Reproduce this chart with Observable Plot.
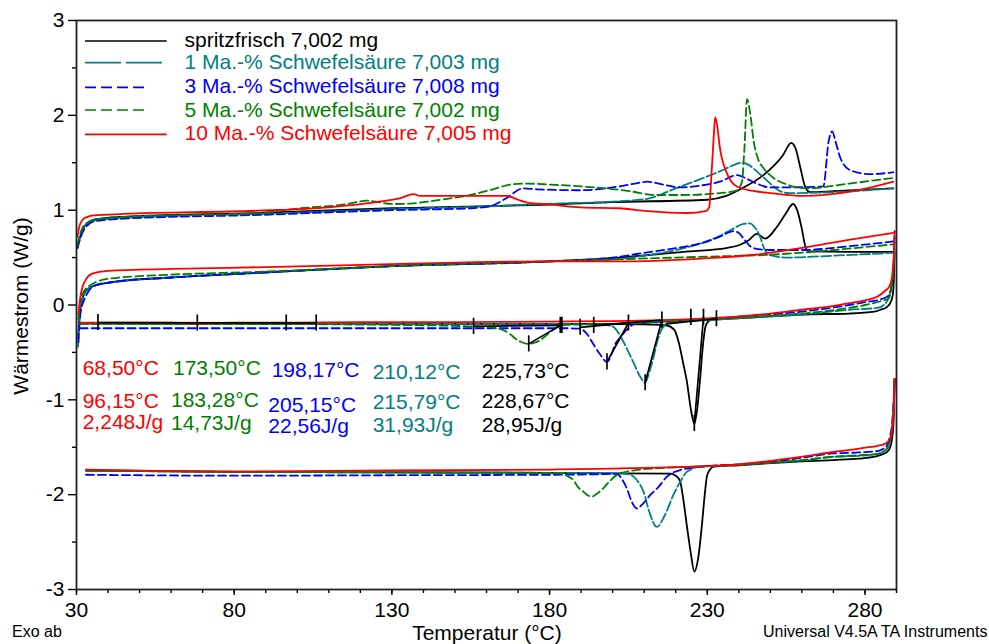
<!DOCTYPE html>
<html><head><meta charset="utf-8">
<script src="https://cdn.jsdelivr.net/npm/d3@7"></script>
<script src="https://cdn.jsdelivr.net/npm/@observablehq/plot@0.6"></script>
<style>body{margin:0;background:#fff;} svg{display:block}</style>
</head><body><div id="chart"></div>
<script>
// ---------- DATA: temperature (°C), heat flow (W/g) ----------
const seriesNames = ["spritzfrisch 7,002 mg","1 Ma.-% Schwefelsäure 7,003 mg","3 Ma.-% Schwefelsäure 7,008 mg","5 Ma.-% Schwefelsäure 7,002 mg","10 Ma.-% Schwefelsäure 7,005 mg"];

// band A: first heating
const blackA = [[30.3,0.6],[31,0.7],[32,0.8],[33.5,0.86],[35.5,0.9],[45,0.93],[88,0.97],[130,1.02],[180,1.06],[200,1.085],[230,1.11],[236,1.15],[241,1.23],[248,1.375],[254,1.58],[256.6,1.71],[258,1.65],[259.5,1.45],[261,1.25],[262.5,1.19],[270,1.2],[289,1.23]];
const tealA = [[30.3,0.62],[31,0.72],[32,0.81],[33.5,0.86],[35.5,0.89],[45,0.92],[88,0.96],[130,1.01],[160,1.04],[182,1.07],[200,1.09],[211,1.12],[220,1.23],[228,1.33],[234,1.41],[238,1.47],[241,1.5],[243,1.48],[245,1.43],[247,1.37],[250,1.28],[252.5,1.21],[256,1.18],[270,1.19],[289,1.23]];
const blueA = [[30.3,0.6],[31,0.68],[32,0.77],[33.5,0.84],[35.5,0.88],[45,0.91],[88,0.95],[130,1.0],[155,1.02],[161,1.04],[166,1.12],[171.7,1.23],[176,1.22],[190,1.21],[200,1.24],[207,1.28],[211,1.3],[216,1.27],[221,1.24],[228,1.26],[234,1.3],[239.5,1.37],[242,1.34],[245,1.29],[250,1.24],[256,1.24],[266.8,1.25],[268.5,1.73],[269.6,1.83],[270.7,1.72],[272.2,1.55],[275.4,1.42],[281.7,1.38],[289,1.4]];
const greenA = [[30.3,0.63],[31,0.73],[32,0.82],[33.5,0.87],[35.5,0.9],[45,0.93],[88,0.97],[101,1.02],[115,1.06],[122,1.1],[130.5,1.065],[136,1.07],[145.4,1.11],[155,1.16],[162,1.22],[168.6,1.275],[173,1.28],[180,1.27],[190,1.25],[205.6,1.2],[213,1.16],[222,1.16],[234,1.18],[239.5,1.21],[241,1.3],[241.8,1.66],[242.6,2.17],[243.7,2.0],[244.7,1.73],[246,1.55],[247.9,1.44],[251,1.34],[255.3,1.27],[261.7,1.23],[275,1.28],[289,1.34]];
const redA = [[30.3,0.72],[31,0.84],[32,0.9],[33.5,0.93],[35.5,0.945],[45,0.96],[88,0.995],[110,1.03],[126,1.09],[133,1.13],[136.8,1.17],[139,1.15],[150,1.15],[166.6,1.15],[170,1.11],[173,1.08],[180,1.06],[190,1.03],[202,1.02],[211,0.99],[223.6,0.97],[229.5,0.99],[230.6,1.03],[231.2,1.3],[232,1.75],[232.5,1.98],[233.1,1.9],[234,1.66],[236.2,1.39],[239.4,1.25],[245,1.2],[250,1.18],[260.5,1.15],[276.3,1.2],[289,1.3]];

// band B: second heating
const blackB = [[30.5,-0.35],[31,-0.1],[32,0.08],[33,0.15],[35.4,0.2],[41,0.24],[60,0.29],[88,0.34],[130,0.41],[180,0.46],[202,0.5],[224,0.565],[236,0.6],[240,0.63],[243,0.68],[245.7,0.75],[248.4,0.7],[252,0.82],[255,0.97],[257.2,1.065],[258.5,1.0],[260,0.8],[261,0.63],[262,0.565],[275,0.56],[289,0.56]];
const tealB = [[30.5,-0.44],[31,-0.15],[32,0.06],[33,0.14],[35.4,0.2],[41,0.24],[60,0.29],[88,0.34],[130,0.41],[180,0.46],[200,0.48],[210,0.52],[220,0.58],[228,0.65],[234,0.73],[238,0.8],[241,0.85],[243.5,0.86],[245,0.82],[246.5,0.74],[248,0.6],[249.5,0.53],[255,0.5],[270,0.52],[289,0.55]];
const blueB = [[30.6,-0.39],[31.2,-0.1],[32.5,0.06],[33.4,0.12],[35.4,0.2],[41,0.24],[60,0.29],[88,0.34],[130,0.41],[180,0.46],[200,0.5],[210,0.55],[220,0.6],[228,0.65],[234,0.72],[238.3,0.78],[240,0.76],[241.5,0.7],[244.6,0.6],[250,0.58],[260,0.58],[275,0.62],[289,0.67]];
const greenB = [[30.6,-0.15],[31.3,0.04],[32.5,0.15],[34,0.2],[36,0.24],[41,0.28],[60,0.32],[88,0.35],[130,0.41],[180,0.46],[200,0.48],[230,0.51],[250,0.53],[270,0.58],[289,0.64]];
const redB = [[30.6,-0.1],[31.2,0.08],[32,0.2],[33,0.27],[35,0.33],[40,0.36],[60,0.38],[90,0.4],[130,0.43],[180,0.46],[202,0.46],[228,0.49],[245,0.53],[259.5,0.6],[275.3,0.69],[289,0.76]];

// band C: cooling with crystallisation peaks
const blackC = [[31,-0.19],[60,-0.195],[100,-0.195],[150,-0.2],[190,-0.2],[210,-0.205],[217,-0.215],[219.5,-0.26],[221,-0.4],[222.4,-0.62],[223.5,-0.8],[224.8,-1.1],[225.9,-1.25],[226.8,-1.1],[227.8,-0.75],[228.7,-0.4],[229.5,-0.22],[231,-0.16],[235,-0.15],[245,-0.13],[260,-0.1],[275,-0.09],[283,-0.07],[285,-0.05],[287,-0.02],[288,0.02],[288.8,0.1],[289.2,0.3],[289.4,0.56]];
const tealC = [[31,-0.2],[80,-0.2],[130,-0.2],[180,-0.2],[197,-0.21],[200.2,-0.23],[202.3,-0.32],[204.5,-0.46],[206.5,-0.6],[208.8,-0.76],[210.3,-0.82],[211.5,-0.72],[212.9,-0.56],[214,-0.4],[215.5,-0.26],[217.2,-0.2],[220,-0.18],[230,-0.16],[245,-0.13],[260,-0.1],[275,-0.05],[284,-0.03],[286,0.0],[287.5,0.08],[288.5,0.22],[289.1,0.4],[289.4,0.7]];
const blueC = [[31,-0.245],[80,-0.245],[130,-0.245],[185,-0.245],[189.7,-0.25],[191.7,-0.3],[194,-0.42],[196,-0.52],[198.2,-0.6],[201.2,-0.39],[202.7,-0.33],[204.5,-0.26],[207,-0.2],[215,-0.18],[230,-0.15],[245,-0.11],[260,-0.07],[275,0.0],[280,0.03],[285,0.06],[287.5,0.1],[288.6,0.25],[289.1,0.45],[289.4,0.78]];
const greenC = [[31,-0.2],[80,-0.2],[130,-0.21],[155,-0.225],[162.3,-0.24],[165,-0.26],[167.6,-0.31],[169,-0.35],[171,-0.39],[173.4,-0.41],[175,-0.4],[177,-0.37],[179,-0.32],[181.2,-0.26],[183.4,-0.22],[185,-0.21],[200,-0.2],[220,-0.17],[240,-0.13],[260,-0.09],[275,-0.03],[280,0.0],[285,0.04],[287.5,0.07],[288.6,0.22],[289.1,0.4],[289.4,0.66]];
const redC = [[31,-0.185],[40,-0.185],[60,-0.185],[68.5,-0.195],[80,-0.185],[100,-0.185],[120,-0.18],[150,-0.18],[180,-0.175],[200,-0.17],[215,-0.16],[230,-0.14],[240,-0.12],[250,-0.09],[260,-0.05],[268,-0.02],[275,0.02],[280,0.05],[284,0.09],[286.4,0.15],[287.8,0.2],[288.6,0.3],[289.1,0.5],[289.4,0.76]];

// band D: second cooling
const blackD = [[33,-1.745],[80,-1.76],[130,-1.765],[180,-1.77],[200,-1.775],[218.3,-1.778],[220,-1.8],[221.4,-1.86],[222.4,-2.05],[223.5,-2.32],[224.7,-2.6],[225.9,-2.81],[227.2,-2.65],[228.3,-2.32],[229.2,-2.0],[230,-1.79],[232.1,-1.705],[240,-1.69],[249,-1.67],[260,-1.65],[270,-1.635],[278,-1.62],[283,-1.6],[285.9,-1.57],[287,-1.55],[288,-1.5],[288.8,-1.35],[289.2,-1.1],[289.4,-0.78]];
const tealD = [[33,-1.745],[80,-1.76],[130,-1.765],[180,-1.77],[202,-1.775],[205.6,-1.79],[207.5,-1.84],[209.8,-1.97],[211.8,-2.2],[214,-2.34],[216.5,-2.22],[219.3,-2.0],[221.5,-1.86],[223.5,-1.76],[227.8,-1.705],[240,-1.685],[249,-1.665],[260,-1.64],[270,-1.6],[278,-1.59],[284,-1.57],[286.5,-1.53],[287.8,-1.45],[288.6,-1.3],[289.1,-1.05],[289.4,-0.78]];
const blueD = [[33,-1.79],[80,-1.8],[130,-1.795],[180,-1.79],[195,-1.785],[201.4,-1.78],[202.8,-1.83],[204.5,-1.935],[206,-2.07],[207.7,-2.146],[209.5,-2.1],[212,-2.0],[214.5,-1.92],[217.2,-1.81],[221.4,-1.74],[230,-1.7],[240,-1.68],[249,-1.66],[260,-1.61],[270,-1.565],[278,-1.555],[284,-1.54],[286.5,-1.5],[287.8,-1.4],[288.6,-1.25],[289.1,-1.0],[289.4,-0.78]];
const greenD = [[33,-1.745],[80,-1.76],[130,-1.765],[170,-1.77],[183.4,-1.776],[185.5,-1.8],[187.6,-1.85],[189,-1.92],[190.8,-1.97],[191.8,-2.0],[193.4,-2.02],[195,-1.99],[197.1,-1.93],[199,-1.86],[201.4,-1.79],[205.6,-1.75],[215,-1.72],[230,-1.7],[240,-1.685],[249,-1.665],[260,-1.635],[270,-1.6],[278,-1.585],[284,-1.57],[286.5,-1.53],[287.8,-1.45],[288.6,-1.3],[289.1,-1.05],[289.4,-0.78]];
const redD = [[33,-1.735],[80,-1.755],[130,-1.745],[180,-1.735],[200,-1.725],[230,-1.7],[240,-1.68],[250,-1.645],[260,-1.6],[270,-1.55],[276,-1.525],[280,-1.505],[284,-1.485],[286.5,-1.46],[287.8,-1.42],[288.6,-1.32],[289.1,-1.12],[289.4,-0.78]];

// integration (peak evaluation) lines, black
const baselineSegments = [
  [[36.8,-0.185],[106,-0.19]],
  [[155.9,-0.225],[183.9,-0.215]],
  [[189.7,-0.235],[205,-0.19]],
  [[194,-0.215],[215.6,-0.16]],
  [[217,-0.2],[232.9,-0.145]],
  [[173.4,-0.41],[183.4,-0.215]],
  [[198.2,-0.6],[205,-0.19]],
  [[210.3,-0.82],[215.6,-0.16]],
  [[225.9,-1.25],[228.8,-0.13]]
];
const limitMarks = [[36.8,-0.185],[68.3,-0.19],[96.5,-0.19],[106,-0.19],[155.9,-0.225],[183.4,-0.215],[183.9,-0.215],[189.7,-0.235],[194,-0.215],[205,-0.19],[215.6,-0.16],[224.8,-0.13],[228.8,-0.13],[232.9,-0.145],[173.4,-0.41],[198.2,-0.6],[210.3,-0.82],[225.9,-1.25]];

// result labels (order: red, green, blue, teal, black)
const peakTemps = ["68,50°C","173,50°C","198,17°C","210,12°C","225,73°C"];
const onsetTemps = ["96,15°C","183,28°C","205,15°C","215,79°C","228,67°C"];
const enthalpies = ["2,248J/g","14,73J/g","22,56J/g","31,93J/g","28,95J/g"];

const xMajorTicks = [30,80,130,180,230,280];
const yMajorTicks = [-3,-2,-1,0,1,2,3];

// ---------- STYLE / LAYOUT ----------
const colors = ["#000000","#008080","#0000ff","#008000","#ff0000"];
const dashes = [null,"10,3","8,4","8,4",null];
const curves = [
  [blackA, blackB, blackC, blackD],
  [tealA, tealB, tealC, tealD],
  [blueA, blueB, blueC, blueD],
  [greenA, greenB, greenC, greenD],
  [redA, redB, redC, redD]
];
const FONT = "'Liberation Sans', Arial, Helvetica, sans-serif";

const rows = [];
curves.forEach((bands, s) => bands.forEach((pts, b) => {
  pts.slice().sort((p, q) => p[0] - q[0]).forEach(([x, y]) => rows.push({s, b, x, y}));
}));
const segRows = [];
baselineSegments.forEach((seg, k) => seg.forEach(([x, y]) => segRows.push({k, x, y})));

const lineMarks = colors.map((c, s) => Plot.line(rows.filter(r => r.s === s), {
  x: "x", y: "y", z: "b", stroke: c, strokeWidth: 1.8,
  strokeDasharray: dashes[s] || undefined, curve: "monotone-x"
}));

const chart = Plot.plot({
  width: 989, height: 644,
  marginLeft: 76, marginRight: 93, marginTop: 20, marginBottom: 55,
  style: {fontFamily: FONT, fontSize: "21px", background: "#fff", color: "#000"},
  x: {domain: [30, 290], label: null},
  y: {domain: [-3, 3], label: null},
  marks: [
    Plot.axisX({ticks: d3.range(30, 291, 10), tickSize: 4, fill: "none", label: null, strokeWidth: 1.4}),
    Plot.axisX({ticks: xMajorTicks, tickSize: 6, tickPadding: 7, label: null, strokeWidth: 1.4, tickFormat: d => String(d)}),
    Plot.axisY({ticks: d3.range(-2.5, 3, 1), tickSize: 4, fill: "none", label: null, strokeWidth: 1.4}),
    Plot.axisY({ticks: yMajorTicks, tickSize: 8, tickPadding: 4, label: null, strokeWidth: 1.4, tickFormat: d => String(d)}),
    ...lineMarks,
    Plot.line(segRows, {x: "x", y: "y", z: "k", stroke: "#000", strokeWidth: 1.7}),
    Plot.ruleX(limitMarks, {x: d => d[0], y1: d => d[1] - 0.085, y2: d => d[1] + 0.085, stroke: "#000", strokeWidth: 1.7}),
    Plot.frame({stroke: "#222", strokeWidth: 1.8})
  ]
});
document.getElementById("chart").appendChild(chart);

// ---------- texts & legend ----------
const svg = d3.select(chart);
const g = svg.append("g").attr("font-family", FONT).attr("font-size", 21).attr("text-anchor", "start");
const legLineY = [41, 62.7, 87.3, 110, 134.3];
const legTextY = [47, 69.2, 93, 116.5, 140];
const legLineX2 = [166.7, 162, 149, 149, 166.7];
const legDash = [null, "36,5", "11,5", "11,5", null];
seriesNames.forEach((name, i) => {
  const ln = g.append("line").attr("x1", 85).attr("x2", legLineX2[i])
    .attr("y1", legLineY[i]).attr("y2", legLineY[i])
    .attr("stroke", colors[i]).attr("stroke-width", 1.7);
  if (legDash[i]) ln.attr("stroke-dasharray", legDash[i]);
  g.append("text").attr("x", 184.5).attr("y", legTextY[i]).attr("fill", colors[i]).attr("text-anchor", "start").text(name);
});

const annColors = ["#ff0000","#008000","#0000ff","#008080","#000000"];
const colX = [[82.7,82.7,82.7],[173,171,171],[271.7,268.3,268.3],[372.7,372.7,372.7],[481.7,481.7,481.7]];
const rowY = [[375,408.3,429.3],[375,406.7,430],[376.7,411.7,432.5],[379,409,431.7],[378.3,408.3,431.7]];
[peakTemps, onsetTemps, enthalpies].forEach((arr, r) => arr.forEach((t, i) => {
  g.append("text").attr("x", colX[i][r]).attr("y", rowY[i][r]).attr("fill", annColors[i]).attr("text-anchor", "start").text(t);
}));

g.append("text").attr("x", 487).attr("y", 640).attr("text-anchor", "middle").text("Temperatur (°C)");
g.append("text").attr("transform", "translate(28,306) rotate(-90)").attr("text-anchor", "middle").text("Wärmestrom (W/g)");
g.append("text").attr("x", 12).attr("y", 636.5).attr("font-size", 16).attr("text-anchor", "start").text("Exo ab");
g.append("text").attr("x", 763).attr("y", 636.5).attr("font-size", 16).attr("text-anchor", "start").text("Universal V4.5A TA Instruments");
</script>
</body></html>
